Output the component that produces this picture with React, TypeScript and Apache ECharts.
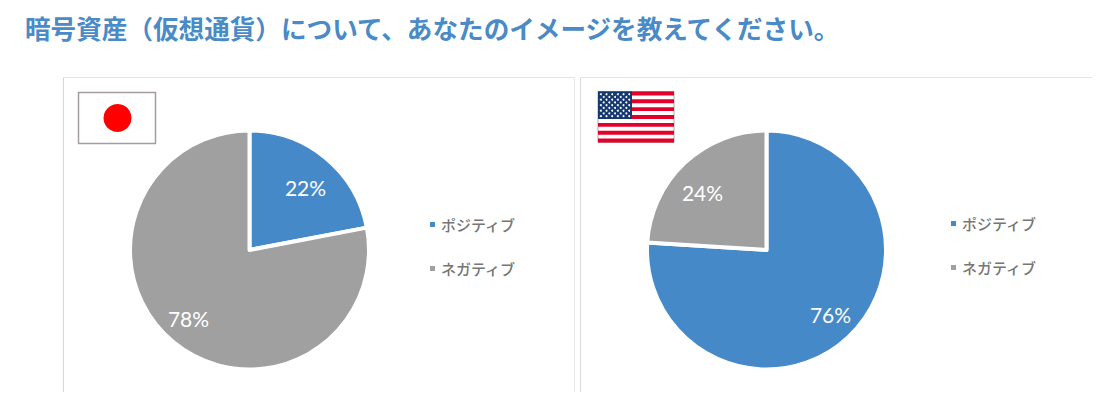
import * as echarts from 'echarts';
import React, { useEffect, useRef } from 'react';

const TITLE = '暗号資産（仮想通貨）について、あなたのイメージを教えてください。';
const CATEGORIES = ['ポジティブ', 'ネガティブ'];
const JAPAN_VALUES = [22, 78];
const US_VALUES = [76, 24];
const COLORS = ['#4689c8', '#9fa09f'];
const FONT = '"Noto Sans CJK JP", "Noto Sans", sans-serif';

const pieSeries = (center: number[], values: number[], labelAt: number[][]) => ({
  type: 'pie',
  center,
  radius: 119.5,
  startAngle: 90,
  clockwise: true,
  silent: true,
  itemStyle: { borderColor: '#fff', borderWidth: 4 },
  label: {
    position: 'inner',
    formatter: '{d}%',
    color: '#fff',
    fontSize: 21,
    fontFamily: 'Lato, sans-serif',
  },
  labelLine: { show: false },
  // labels are not on the slice's mid radius in the original
  labelLayout: (params: any) => ({
    x: center[0] + labelAt[params.dataIndex][0],
    y: center[1] + labelAt[params.dataIndex][1],
    align: 'center',
    verticalAlign: 'middle',
  }),
  data: CATEGORIES.map((name, i) => ({
    name,
    value: values[i],
    itemStyle: { color: COLORS[i] },
  })),
});

const legendAt = (left: number, top: number) => ({
  left,
  top,
  padding: 0,
  orient: 'vertical',
  icon: 'rect',
  itemWidth: 7,
  itemHeight: 7,
  itemGap: 29,
  selectedMode: false,
  data: CATEGORIES,
  textStyle: { color: '#767676', fontSize: 15, fontFamily: FONT, fontWeight: 500 },
});

const line = (x1: number, y1: number, x2: number, y2: number, stroke: string) => ({
  type: 'line',
  shape: { x1, y1, x2, y2 },
  style: { stroke, lineWidth: 1 },
  silent: true,
});

const japanFlag = () => [
  {
    type: 'rect',
    shape: { x: 78.5, y: 92.5, width: 77, height: 51 },
    style: { fill: '#fff', stroke: '#a39d9c', lineWidth: 1.5 },
  },
  { type: 'circle', shape: { cx: 117.5, cy: 118, r: 14 }, style: { fill: '#ff0000' } },
];

const usFlag = () => {
  const x = 598;
  const y = 91.5;
  const w = 76;
  const h = 51;
  const items: any[] = [
    { type: 'rect', shape: { x, y, width: w, height: h }, style: { fill: '#fff', stroke: '#aaa', lineWidth: 1 } },
  ];
  const sh = h / 13;
  for (let i = 0; i < 13; i += 2) {
    items.push({ type: 'rect', shape: { x, y: y + i * sh, width: w, height: sh }, style: { fill: '#e4002b' } });
  }
  const cw = 34;
  const ch = sh * 7;
  items.push({ type: 'rect', shape: { x, y, width: cw, height: ch }, style: { fill: '#14386f' } });
  for (let row = 0; row < 9; row++) {
    const n = row % 2 === 0 ? 6 : 5;
    for (let c = 0; c < n; c++) {
      items.push({
        type: 'circle',
        shape: {
          cx: x + (cw / 12) * (row % 2 === 0 ? 2 * c + 1 : 2 * c + 2),
          cy: y + (ch / 10) * (row + 1),
          r: 1,
        },
        style: { fill: '#fff' },
      });
    }
  }
  return items;
};

const App: React.FC = () => {
  const chartRef = useRef<HTMLDivElement>(null);

  useEffect(() => {
    if (!chartRef.current) return;
    const chart = echarts.init(chartRef.current, undefined, { renderer: 'svg' });
    chart.setOption({
      animation: false,
      backgroundColor: '#fff',
      title: {
        text: TITLE,
        left: 25,
        top: 15,
        padding: 0,
        textStyle: { color: '#4a8ac6', fontSize: 25.6, fontWeight: 'bold', fontFamily: FONT },
      },
      legend: [legendAt(428, 217), legendAt(949, 216)],
      series: [
        pieSeries([249.5, 250], JAPAN_VALUES, [[56, -63], [-61, 68]]),
        pieSeries([766.5, 250], US_VALUES, [[64, 64], [-64, -58]]),
      ],
      graphic: [
        line(63.5, 77.5, 574.5, 77.5, '#e4e4e4'),
        line(63.5, 77.5, 63.5, 392, '#d8d8d8'),
        line(574.5, 77.5, 574.5, 392, '#e8e8e8'),
        line(580.5, 77.5, 1092, 77.5, '#e4e4e4'),
        line(580.5, 77.5, 580.5, 392, '#d8d8d8'),
        ...japanFlag(),
        ...usFlag(),
      ],
    });
    return () => chart.dispose();
  }, []);

  return (
    <div
      ref={chartRef}
      style={{ position: 'fixed', left: 0, top: 0, width: 1102, height: 404 }}
    />
  );
};

export default App;
